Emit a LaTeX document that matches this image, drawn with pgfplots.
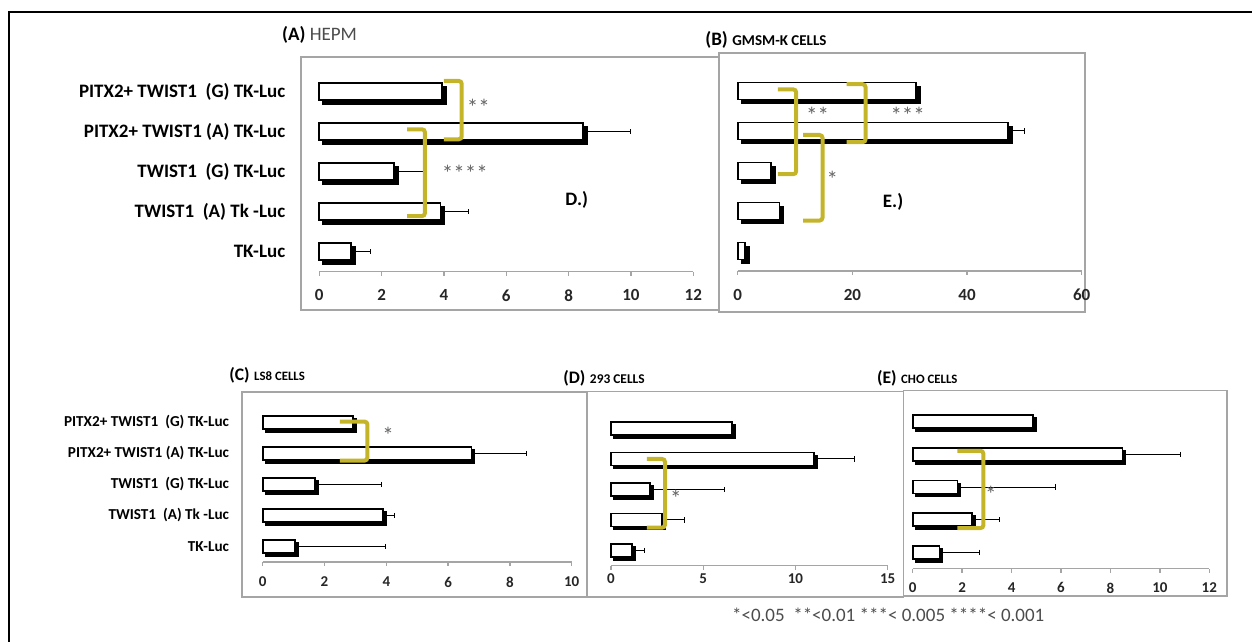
\documentclass[border=0pt]{standalone}
\usepackage{pgfplots}
\pgfplotsset{compat=1.18}
\usepackage{fontspec}
\setmainfont{Carlito}
\usetikzlibrary{shadows}
\definecolor{brk}{RGB}{196,180,42}
\definecolor{axgray}{RGB}{165,165,165}
\definecolor{stargray}{RGB}{100,100,100}

\tikzset{bkt/.style={draw=brk, line width=2pt, rounded corners=1.5pt},
  st/.style={text=stargray, font=\fontsize{11.5}{12}\selectfont}}
\pgfplotsset{
  panel/.style={
    scale only axis, xbar, bar shift=0pt, clip=false,
    axis x line*=bottom, axis y line*=left,
    y axis line style={draw=none}, ytick style={draw=none},
    x axis line style={axgray, line width=0.7pt},
    xtick style={axgray, line width=0.7pt},
    tick align=outside, major tick length=2pt,
    ymin=-0.5, ymax=4.5, xmin=0, ytick={0,1,2,3,4},
    /pgf/number format/assume math mode=true,
  },
  bars/.style={
    fill=white, draw=black, line width=0.9pt,
    drop shadow={shadow xshift=#1, shadow yshift=-#1, fill=black, opacity=1},
  },
  errs/.style={
    draw=none, fill=none,
    error bars/.cd, x dir=plus, x explicit, error mark=|,
    error bar style={black, line width=0.5pt},
    error mark options={black, line width=0.5pt, mark size=1.3pt},
  },
}

\begin{document}
\begin{tikzpicture}
\begin{scope}[x=0.5pt,y=0.5pt]
\useasboundingbox (0,0) rectangle (1252,642);
% outer frame
\draw[black, line width=1.2pt] (9,0) -- (9,630) -- (1252,630);
% panel boxes
\draw[axgray, line width=0.8pt] (301,585) rectangle (719,332);
\draw[axgray, line width=0.8pt] (719,589) rectangle (1085,330);
\draw[axgray, line width=0.8pt] (241.7,249.7) rectangle (586.7,44.7);
\draw[axgray, line width=0.8pt] (586.7,250.3) rectangle (903.3,44.7);
\draw[axgray, line width=0.8pt] (903.3,251.3) rectangle (1226.7,46);
% titles
\node[anchor=west, inner sep=0] at (281.7,607) {\fontsize{9.5}{11}\selectfont\textbf{(A)} \textcolor{black!70}{HEPM}};
\node[anchor=west, inner sep=0] at (705,602) {\textbf{\fontsize{9.5}{11}\selectfont (B)} \textbf{\fontsize{7.5}{9}\selectfont GMSM-K CELLS}};
\node[anchor=west, inner sep=0] at (229,267) {\textbf{\fontsize{8.8}{10}\selectfont (C)} \textbf{\fontsize{6.4}{8}\selectfont LS8 CELLS}};
\node[anchor=west, inner sep=0] at (563,264) {\textbf{\fontsize{8.8}{10}\selectfont (D)} \textbf{\fontsize{6.7}{8}\selectfont 293 CELLS}};
\node[anchor=west, inner sep=0] at (876.7,264) {\textbf{\fontsize{8.8}{10}\selectfont (E)} \textbf{\fontsize{6.4}{8}\selectfont CHO CELLS}};
% footnote
\node[anchor=west, inner sep=0] at (731.7,27) {\fontsize{9.5}{11}\selectfont\textcolor{black!70}{*<0.05\ \ **<0.01 ***< 0.005 ****< 0.001}};
\end{scope}

% ---------- Panel A
\begin{axis}[panel, at={(159.65pt,185.15pt)}, anchor=south west,
  width=187pt, height=100pt, xmax=12, xtick={0,2,...,12},
  bar width=8.5pt,
  xticklabel style={font=\bfseries\fontsize{8.5}{9}\selectfont, text=black!85, yshift=-3.5pt},
  yticklabels={TK-Luc, TWIST1\ \ (A) Tk -Luc, TWIST1\ \ (G) TK-Luc, PITX2+ TWIST1 (A) TK-Luc\ , PITX2+ TWIST1\ \ (G) TK-Luc},
  yticklabel style={font=\bfseries\fontsize{9.5}{11}\selectfont, xshift=-11.5pt},
]
\addplot[bars=2pt] coordinates {(1.02,0) (3.89,1) (2.40,2) (8.45,3) (3.93,4)};
\addplot[errs] coordinates {
 (1.02,0) +- (0.61,0)
 (3.89,1) +- (0.89,0)
 (2.40,2) +- (0.98,0)
 (8.45,3) +- (1.52,0)
};
\draw[bkt] (4.0,4.27) -- (4.57,4.27) -- (4.57,2.81) -- (4.0,2.81);
\draw[bkt] (2.82,3.06) -- (3.39,3.06) -- (3.39,0.89) -- (2.82,0.89);
\node[st] at (5.1,3.62) {**};
\node[st] at (4.67,1.97) {****};
\node[font=\bfseries\fontsize{9.5}{11}\selectfont] at (8.26,1.29) {D.)};
\end{axis}

% ---------- Panel B
\begin{axis}[panel, at={(368.85pt,185.5pt)}, anchor=south west,
  width=172pt, height=100pt, xmax=60, xtick={0,20,40,60},
  bar width=8.5pt, ytick=\empty,
  xticklabel style={font=\bfseries\fontsize{8.5}{9}\selectfont, text=black!85, yshift=-3.5pt},
]
\addplot[bars=2pt] coordinates {(1.27,0) (7.3,1) (5.8,2) (47.2,3) (31.1,4)};
\addplot[errs] coordinates {
 (1.27,0) +- (0.73,0)
 (47.2,3) +- (2.8,0)
};
\draw[bkt] (7.0,4.04) -- (10.2,4.04) -- (10.2,1.92) -- (7.0,1.92);
\draw[bkt] (19.0,4.17) -- (22.3,4.17) -- (22.3,2.72) -- (19.0,2.72);
\draw[bkt] (11.4,2.9) -- (14.8,2.9) -- (14.8,0.76) -- (11.4,0.76);
\node[st] at (13.95,3.4) {**};
\node[st] at (29.65,3.4) {***};
\node[st] at (16.5,1.78) {*};
\node[font=\bfseries\fontsize{9.5}{11}\selectfont] at (27.1,1.23) {E.)};
\end{axis}

% ---------- Panel C
\begin{axis}[panel, at={(131.35pt,40pt)}, anchor=south west,
  width=154.5pt, height=77.5pt, xmax=10, xtick={0,2,...,10},
  bar width=6.5pt,
  xticklabel style={font=\bfseries\fontsize{7.5}{8}\selectfont, text=black!85, yshift=-2pt},
  yticklabels={TK-Luc, TWIST1\ \ (A) Tk -Luc, TWIST1\ \ (G) TK-Luc, PITX2+ TWIST1 (A) TK-Luc\ , PITX2+ TWIST1\ \ (G) TK-Luc},
  yticklabel style={font=\bfseries\fontsize{7.6}{9}\selectfont, xshift=-11.3pt},
]
\addplot[bars=1.5pt] coordinates {(1.05,0) (3.90,1) (1.69,2) (6.76,3) (2.91,4)};
\addplot[errs] coordinates {
 (1.05,0) +- (2.94,0)
 (3.90,1) +- (0.38,0)
 (1.69,2) +- (2.16,0)
 (6.76,3) +- (1.78,0)
};
\draw[bkt] (2.5,4.03) -- (3.39,4.03) -- (3.39,2.77) -- (2.5,2.77);
\node[st] at (4.06,3.6) {*};
\end{axis}

% ---------- Panel D
\begin{axis}[panel, at={(305.5pt,38.125pt)}, anchor=south west,
  width=138.35pt, height=76.25pt, xmax=15, xtick={0,5,10,15},
  bar width=6.5pt, ytick=\empty,
  xticklabel style={font=\bfseries\fontsize{7.5}{8}\selectfont, text=black!85, yshift=1.5pt},
]
\addplot[bars=1.5pt] coordinates {(1.12,0) (2.75,1) (2.11,2) (11.0,3) (6.54,4)};
\addplot[errs] coordinates {
 (1.12,0) +- (0.69,0)
 (2.75,1) +- (1.26,0)
 (2.11,2) +- (4.02,0)
 (11.0,3) +- (2.18,0)
};
\draw[bkt] (1.94,3.0) -- (2.93,3.0) -- (2.93,0.75) -- (1.94,0.75);
\node[st] at (3.52,1.71) {*};
\end{axis}

% ---------- Panel E
\begin{axis}[panel, at={(456.35pt,36.7pt)}, anchor=south west,
  width=148.3pt, height=81.6pt, xmax=12, xtick={0,2,...,12},
  bar width=6.5pt, ytick=\empty,
  xticklabel style={font=\bfseries\fontsize{7.5}{8}\selectfont, text=black!85, yshift=-1.5pt},
]
\addplot[bars=1.5pt] coordinates {(1.08,0) (2.39,1) (1.81,2) (8.49,3) (4.88,4)};
\addplot[errs] coordinates {
 (1.08,0) +- (1.62,0)
 (2.39,1) +- (1.12,0)
 (1.81,2) +- (3.95,0)
 (8.49,3) +- (2.36,0)
};
\draw[bkt] (1.81,3.11) -- (2.86,3.11) -- (2.86,0.74) -- (1.81,0.74);
\node[st] at (3.16,1.79) {*};
\end{axis}
\end{tikzpicture}
\end{document}
